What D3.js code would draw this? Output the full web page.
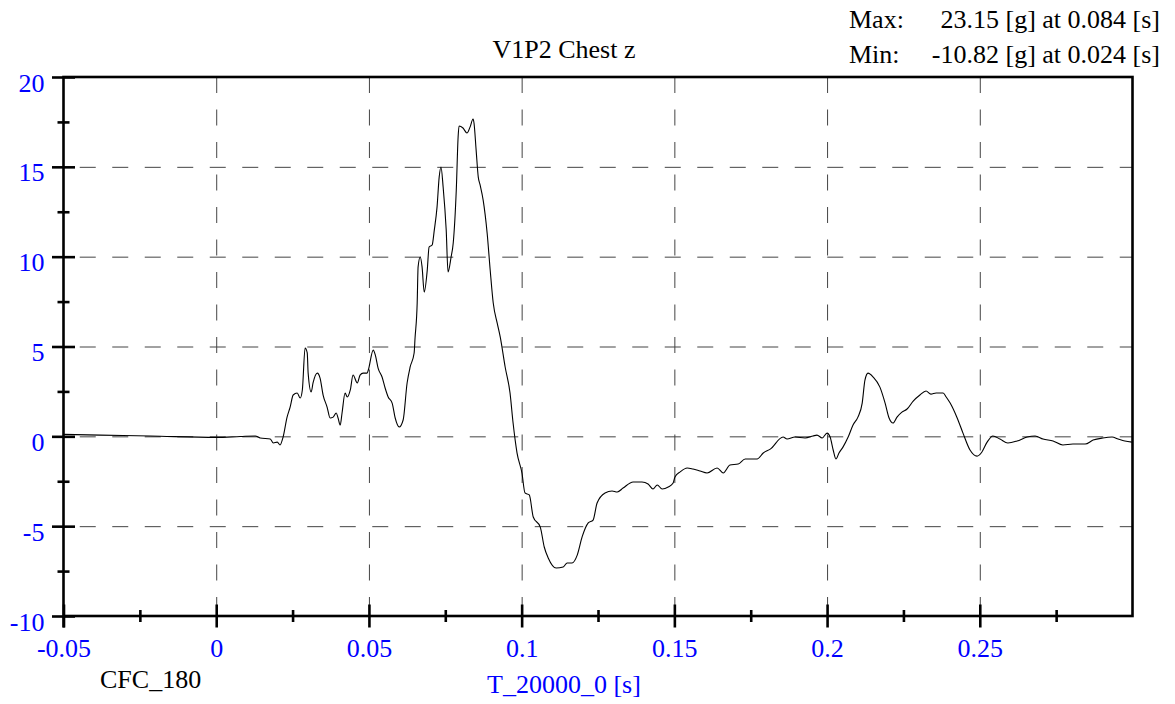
<!DOCTYPE html>
<html><head><meta charset="utf-8">
<script src="https://cdn.jsdelivr.net/npm/d3@7"></script>
<style>
body{margin:0;background:#fff}
svg{display:block}
text{font-family:"Liberation Serif","Times New Roman",serif}
</style>
</head><body><svg id="c" width="1175" height="704"></svg>
<script>
const title = "V1P2 Chest z";
const xLabel = "T_20000_0 [s]";
const filterLabel = "CFC_180";
const maxLine = ["Max:", "23.15 [g] at 0.084 [s]"];
const minLine = ["Min:", "-10.82 [g] at 0.024 [s]"];
const xTickValues = [-0.05, 0, 0.05, 0.1, 0.15, 0.2, 0.25];
const xTickLabels = ["-0.05", "0", "0.05", "0.1", "0.15", "0.2", "0.25"];
const xMinorTicks = [-0.025, 0.025, 0.075, 0.125, 0.175, 0.225, 0.275];
const xGridValues = [0, 0.05, 0.1, 0.15, 0.2, 0.25];
const yTickValues = [-10, -5, 0, 5, 10, 15, 20];
const yTickLabels = ["-10", "-5", "0", "5", "10", "15", "20"];
const yMinorTicks = [-7.5, -2.5, 2.5, 7.5, 12.5, 17.5];
const yGridValues = [-5, 0, 5, 10, 15];

const time = [
-0.05,-0.038,-0.0216,0,0.0079,0.0128,0.0144,0.0177,0.0187,0.0200,0.0209,0.0219,0.0232,0.0242,0.0252,0.0265,0.0275,0.0282,0.0291,0.0298,
0.0301,0.0311,0.0317,0.0331,0.0340,0.0350,0.0363,0.0373,0.0383,0.0393,0.0399,0.0406,0.0412,0.0422,0.0429,0.0439,0.0448,0.0462,0.0471,0.0481,
0.0494,0.0498,0.0514,0.0521,0.0530,0.0543,0.0553,0.0563,0.0576,0.0586,0.0599,0.0612,0.0625,0.0635,0.0648,0.0651,0.0658,0.0661,0.0668,0.0674,
0.0681,0.0691,0.0697,0.0707,0.0714,0.0723,0.0730,0.0736,0.0743,0.0753,0.0759,0.0769,0.0776,0.0786,0.0792,0.0795,0.0808,0.0821,0.0831,0.0841,
0.0844,0.0851,0.0858,0.0864,0.0874,0.0887,0.0897,0.0907,0.0920,0.0930,0.0946,0.0962,0.0972,0.0985,0.1001,0.1011,0.1025,0.1038,0.1061,0.1074,
0.1087,0.1113,0.1136,0.1149,0.1165,0.1182,0.1198,0.1218,0.1234,0.1247,0.1273,0.1296,0.1313,0.1332,0.1365,0.1394,0.1414,0.1430,0.1444,0.1460,
0.1480,0.1496,0.1502,0.1519,0.1542,0.1561,0.1584,0.1607,0.1640,0.1660,0.1682,0.1709,0.1732,0.1771,0.1791,0.1814,0.1856,0.1869,0.1895,0.1928,
0.1954,0.1967,0.1984,0.2000,0.2010,0.2020,0.2029,0.2039,0.2052,0.2069,0.2085,0.2101,0.2115,0.2124,0.2134,0.2151,0.2173,0.2190,0.2203,0.2216,
0.2229,0.2245,0.2262,0.2282,0.2304,0.2324,0.2340,0.2357,0.2380,0.2390,0.2403,0.2426,0.2445,0.2468,0.2491,0.2507,0.2524,0.2543,0.2566,0.2592,
0.2622,0.2655,0.2681,0.2707,0.2740,0.2772,0.2805,0.2845,0.2871,0.2903,0.2933,0.2953,0.2975,0.2998
];
const accel = [
0.11,0.07,0.02,-0.06,-0.01,0.02,-0.09,-0.15,-0.37,-0.32,-0.48,-0.04,1.07,1.63,2.30,2.41,2.13,2.58,4.92,4.64,
3.52,2.47,2.97,3.52,3.24,2.30,1.63,1.02,1.07,1.30,1.02,0.63,1.30,2.41,2.19,2.58,3.41,2.97,3.41,3.52,
3.52,3.69,4.80,4.52,3.80,3.30,2.69,2.19,1.85,1.02,0.52,0.91,2.97,3.86,4.64,5.47,7.42,9.43,9.98,9.43,
8.03,9.26,10.54,10.65,11.48,12.76,14.43,14.99,13.87,11.48,9.15,9.98,10.76,13.71,16.66,17.27,17.16,16.88,17.21,17.66,
17.44,15.93,14.43,13.99,13.15,11.32,9.26,7.42,6.30,5.52,3.86,2.41,0.74,-0.93,-2.04,-3.15,-3.26,-4.49,-5.05,-6.16,
-6.77,-7.33,-7.27,-7.05,-7.05,-6.61,-5.60,-4.82,-4.66,-3.71,-3.15,-3.04,-3.10,-2.88,-2.54,-2.54,-2.65,-2.93,-2.71,-2.93,
-2.82,-2.60,-2.26,-1.98,-1.76,-1.82,-1.93,-2.04,-1.76,-2.04,-1.60,-1.54,-1.26,-1.26,-0.93,-0.71,-0.04,-0.15,-0.04,-0.09,
0.02,0.07,-0.09,0.18,-0.04,-0.76,-1.26,-0.93,-0.60,-0.04,0.63,1.07,1.85,3.13,3.52,3.30,2.74,1.85,1.02,0.74,
1.07,1.35,1.52,1.96,2.30,2.52,2.35,2.41,2.41,2.19,1.85,1.02,0.18,-0.76,-1.10,-0.87,-0.32,0.02,-0.15,-0.37,
-0.26,-0.04,0.02,-0.15,-0.26,-0.48,-0.43,-0.43,-0.21,-0.09,-0.04,-0.15,-0.26,-0.32
];

const svg = d3.select("#c");
const L = 63.5, R = 1132.5, T = 77, B = 616;
const x = d3.scaleLinear().domain([-0.05, 0.3]).range([L, R]);
const y = d3.scaleLinear().domain([-10, 20]).range([B, T]);
const FS = 26;
const blue = "#0000ff";

// grid
const gx = svg.append("g").attr("transform", `translate(0,${T})`)
  .call(d3.axisBottom(x).tickValues(xGridValues).tickSize(B - T).tickFormat(""));
gx.select(".domain").remove();
gx.selectAll("line").attr("stroke", "#444").attr("stroke-width", 1).attr("stroke-dasharray", "16,16.5");
const gy = svg.append("g").attr("transform", `translate(${L},0)`)
  .call(d3.axisRight(y).tickValues(yGridValues).tickSize(R - L).tickFormat(""));
gy.select(".domain").remove();
gy.selectAll("line").attr("stroke", "#444").attr("stroke-width", 1)
  .attr("stroke-dasharray", "16,16.5").attr("stroke-dashoffset", 16.25);

// curve
svg.append("clipPath").attr("id", "clip").append("rect")
  .attr("x", L).attr("y", T).attr("width", R - L).attr("height", B - T);
const pts = time.map((t, i) => [t, accel[i]]);
svg.append("path").datum(pts).attr("clip-path", "url(#clip)")
  .attr("fill", "none").attr("stroke", "#000").attr("stroke-width", 1.1)
  .attr("d", d3.line().x(d => x(d[0])).y(d => y(d[1])).curve(d3.curveMonotoneX));

// frame
svg.append("rect").attr("x", L).attr("y", T).attr("width", R - L).attr("height", B - T)
  .attr("fill", "none").attr("stroke", "#000").attr("stroke-width", 2.6);

// x axis major ticks
const ax = svg.append("g").attr("transform", `translate(0,${B})`)
  .call(d3.axisBottom(x).tickValues(xTickValues).tickFormat((d, i) => xTickLabels[i]).tickSizeOuter(0));
ax.select(".domain").remove();
ax.selectAll("line").attr("y1", -11.5).attr("y2", 11.5).attr("stroke", "#000").attr("stroke-width", 2.6);
ax.selectAll("text").attr("y", 41).attr("dy", 0).attr("fill", blue)
  .style("font-size", FS + "px").style("font-family", "'Liberation Serif',serif");
const axm = svg.append("g").attr("transform", `translate(0,${B})`)
  .call(d3.axisBottom(x).tickValues(xMinorTicks).tickFormat("").tickSizeOuter(0));
axm.select(".domain").remove();
axm.selectAll("line").attr("y1", -6).attr("y2", 6).attr("stroke", "#000").attr("stroke-width", 2.6);

// y axis ticks
const ay = svg.append("g").attr("transform", `translate(${L},0)`)
  .call(d3.axisLeft(y).tickValues(yTickValues).tickFormat((d, i) => yTickLabels[i]).tickSizeOuter(0));
ay.select(".domain").remove();
ay.selectAll("line").attr("x1", -11.5).attr("x2", 11.5).attr("stroke", "#000").attr("stroke-width", 2.6);
ay.selectAll("text").attr("x", -19).attr("dy", 0).attr("y", 14).attr("fill", blue)
  .style("font-size", FS + "px").style("font-family", "'Liberation Serif',serif");
const aym = svg.append("g").attr("transform", `translate(${L},0)`)
  .call(d3.axisLeft(y).tickValues(yMinorTicks).tickFormat("").tickSizeOuter(0));
aym.select(".domain").remove();
aym.selectAll("line").attr("x1", -6).attr("x2", 6).attr("stroke", "#000").attr("stroke-width", 2.6);
// extend left axis below bottom
svg.append("line").attr("x1", L).attr("x2", L).attr("y1", B).attr("y2", B + 11.5)
  .attr("stroke", "#000").attr("stroke-width", 2.6);

// texts
svg.append("text").attr("x", 564).attr("y", 58).attr("text-anchor", "middle")
  .style("font-size", FS + "px").text(title);
svg.append("text").attr("x", 849).attr("y", 28).style("font-size", FS + "px").text(maxLine[0]);
svg.append("text").attr("x", 1160).attr("y", 28).attr("text-anchor", "end").style("font-size", FS + "px").text(maxLine[1]);
svg.append("text").attr("x", 849).attr("y", 63).style("font-size", FS + "px").text(minLine[0]);
svg.append("text").attr("x", 1160).attr("y", 63).attr("text-anchor", "end").style("font-size", FS + "px").text(minLine[1]);
svg.append("text").attr("x", 100).attr("y", 688).style("font-size", FS + "px").text(filterLabel);
svg.append("text").attr("x", 564).attr("y", 693).attr("text-anchor", "middle").attr("fill", blue)
  .style("font-size", FS + "px").text(xLabel);
</script>
</body></html>
